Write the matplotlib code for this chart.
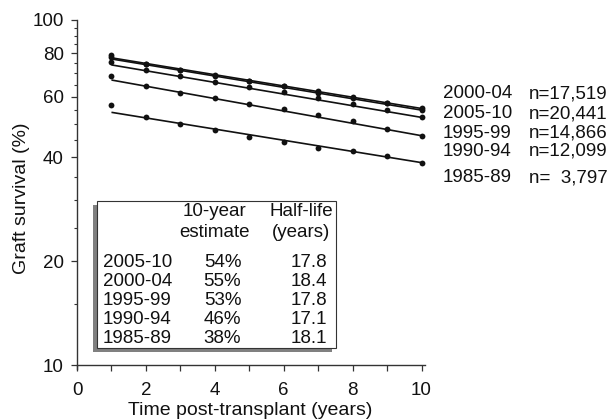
import matplotlib
matplotlib.use("Agg")
import matplotlib.pyplot as plt
from matplotlib.patches import Rectangle
from matplotlib.ticker import FixedLocator, NullFormatter
import numpy as np

plt.rcParams["font.family"] = ["Liberation Sans", "DejaVu Sans"]

# data
years = np.arange(1, 11)
cohorts = ["2000-04", "2005-10", "1995-99", "1990-94", "1985-89"]
counts = ["n=17,519", "n=20,441", "n=14,866", "n=12,099", "n=  3,797"]

surv_2000_04 = [78.3, 74.7, 71.6, 69.1, 66.7, 64.5, 62.2, 59.9, 57.6, 55.4]
surv_2005_10 = [79.0, 74.6, 71.5, 69.0, 66.6, 64.3, 61.5, 59.6, 57.3, 54.8]
surv_1995_99 = [75.7, 71.8, 68.8, 66.3, 64.1, 61.8, 59.3, 57.1, 54.7, 52.2]
surv_1990_94 = [68.8, 64.4, 61.5, 59.3, 57.1, 55.1, 52.9, 51.0, 48.4, 46.2]
surv_1985_89 = [56.8, 52.2, 49.8, 48.0, 45.9, 44.2, 42.6, 41.6, 40.3, 38.6]
survival = [surv_2000_04, surv_2005_10, surv_1995_99, surv_1990_94, surv_1985_89]

# fitted (log-linear) lines, value at year 1 and year 10
fit_start = [77.7, 77.1, 74.1, 67.0, 54.0]
fit_end = [55.4, 54.8, 52.2, 46.2, 38.6]

table_cohorts = ["2005-10", "2000-04", "1995-99", "1990-94", "1985-89"]
ten_year = ["54%", "55%", "53%", "46%", "38%"]
half_life = ["17.8", "18.4", "17.8", "17.1", "18.1"]

y_major = [10, 20, 40, 60, 80, 100]
y_minor = [15, 25, 30, 35, 45, 50, 55, 65, 70, 75, 85, 90, 95]
x_major = [0, 2, 4, 6, 8, 10]
x_minor = [1, 3, 5, 7, 9]

W, H = 609, 420
fig = plt.figure(figsize=(W / 100, H / 100), dpi=100)
ax = fig.add_axes([77 / W, 1 - 368.8 / H, 348 / W, 348.8 / H])

FS = 13.5


def ftext(x, y, s, **kw):
    # place text at pixel position (from top-left)
    fig.text(x / W, 1 - y / H, s, fontsize=FS, color=ink, va="baseline", **kw)


ink = "#111111"
for vals, y0, y1 in zip(survival, fit_start, fit_end):
    ax.plot([years[0], years[-1]], [y0, y1], color=ink, lw=1.2, solid_capstyle="butt")
    ax.plot(years, vals, "o", color=ink, ms=4.2, mew=0)

ax.set_yscale("log")
ax.set_ylim(9.75, 100)
ax.set_xlim(0, 10.1)

ax.yaxis.set_major_locator(FixedLocator(y_major))
ax.yaxis.set_minor_locator(FixedLocator(y_minor))
ax.yaxis.set_major_formatter(plt.FuncFormatter(lambda v, p: f"{v:g}"))
ax.yaxis.set_minor_formatter(NullFormatter())
ax.xaxis.set_major_locator(FixedLocator(x_major))
ax.xaxis.set_minor_locator(FixedLocator(x_minor))

for s in ["top", "right"]:
    ax.spines[s].set_visible(False)
ax.spines["bottom"].set_position(("data", 10))
for s in ["left", "bottom"]:
    ax.spines[s].set_linewidth(1.0)
    ax.spines[s].set_color("#333333")

ax.tick_params(axis="both", which="major", length=4.5, width=0.9, color="#333333",
               labelsize=FS, labelcolor=ink)
ax.tick_params(axis="y", which="minor", length=2.5, width=0.8, color="#333333")
ax.tick_params(axis="x", which="minor", length=4.5, width=0.9, color="#333333")
ax.tick_params(axis="x", which="major", pad=7.5)
ax.tick_params(axis="y", which="major", pad=5)

ax.set_xlabel("Time post-transplant (years)", fontsize=14, color=ink)
ax.set_ylabel("Graft survival (%)", fontsize=14, color=ink)
ax.xaxis.set_label_coords(0.497, -0.095)
ax.yaxis.set_label_coords(-0.135, 0.49)

# cohort labels at the right
label_base = [98.3, 118.3, 137.7, 156.0, 182.3]
for name, n, yb in zip(cohorts, counts, label_base):
    ftext(443, yb, name)
    ftext(529, yb, n)

# inset table with drop shadow
fig.add_artist(Rectangle((93 / W, 1 - 352 / H), (332 - 93) / W, (352 - 205) / H,
                         transform=fig.transFigure, facecolor="#808080", edgecolor="none", zorder=2))
fig.add_artist(Rectangle((97 / W, 1 - 348 / H), (336 - 97) / W, (348 - 201) / H,
                         transform=fig.transFigure, facecolor="white", edgecolor="#333333",
                         lw=0.8, zorder=2.5))

ftext(214, 216.5, "10-year", ha="center")
ftext(214, 236.7, "estimate", ha="center")
ftext(301, 216.5, "Half-life", ha="center")
ftext(301, 236.7, "(years)", ha="center")
row_base = [266.7, 285.7, 304.8, 323.9, 343.0]
for name, pct, hl, yb in zip(table_cohorts, ten_year, half_life, row_base):
    ftext(102.7, yb, name)
    ftext(222.5, yb, pct, ha="center")
    ftext(327, yb, hl, ha="right")

fig.savefig("out.png", dpi=100, facecolor="white")
